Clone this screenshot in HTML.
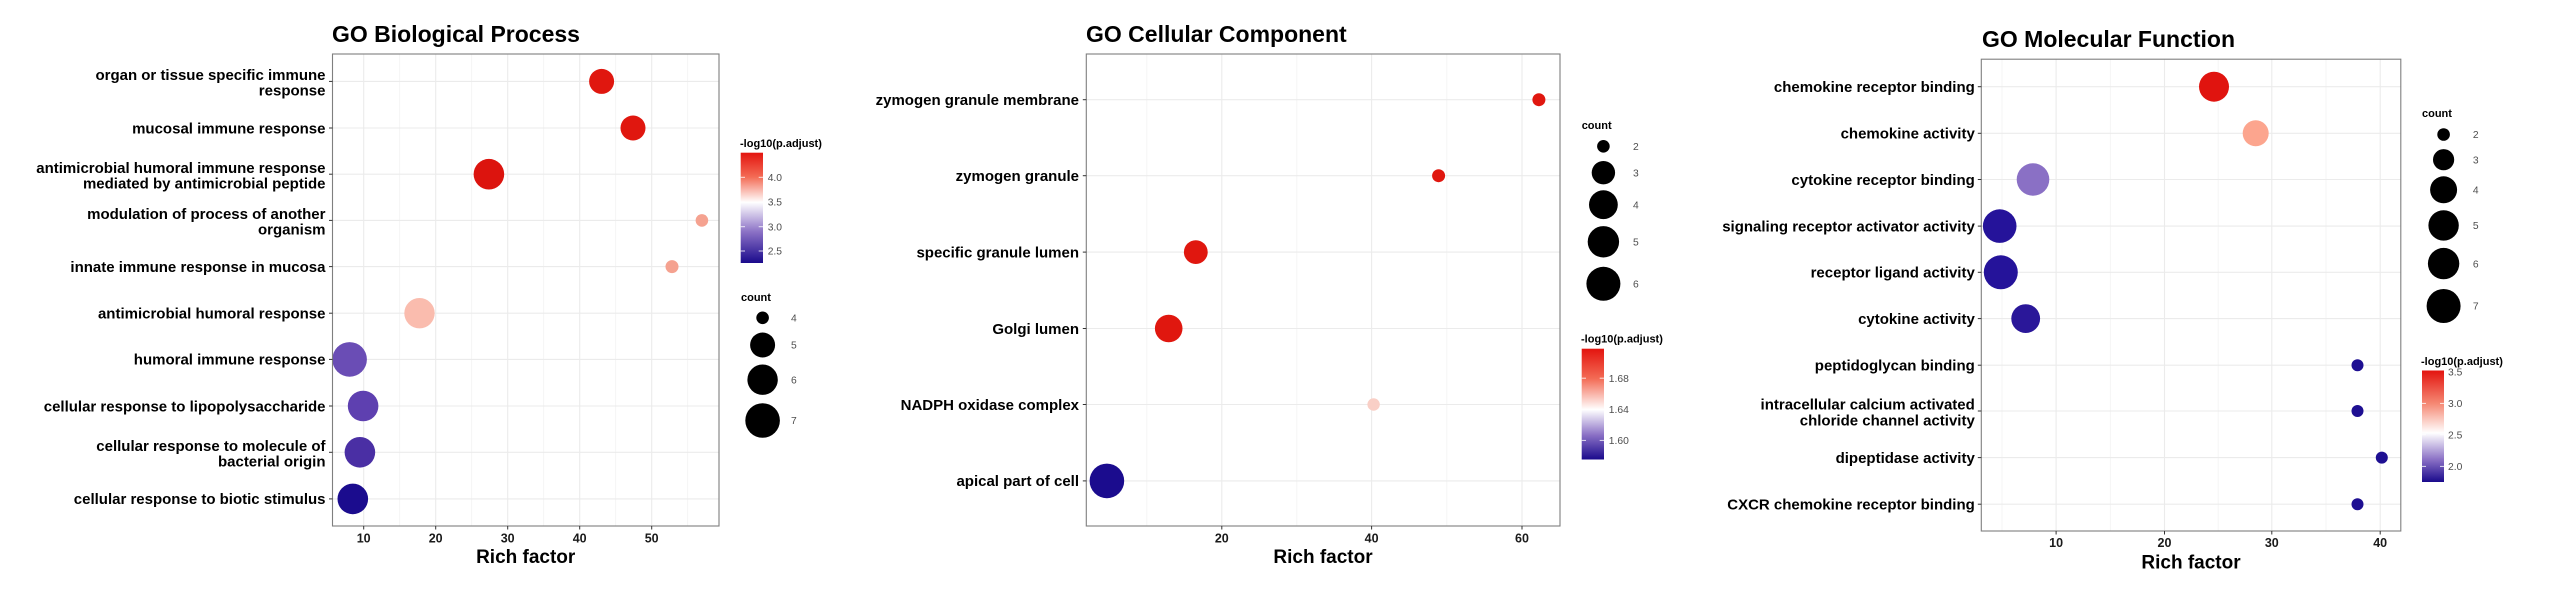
<!DOCTYPE html>
<html><head><meta charset="utf-8"><style>
html,body{margin:0;padding:0;background:#fff;}
svg{display:block;}
text{font-family:"Liberation Sans",Arial,sans-serif;}
.t{font-size:23px;font-weight:bold;fill:#000;}
.yl{font-size:15px;font-weight:bold;fill:#000;text-anchor:end;}
.xl{font-size:12.5px;font-weight:bold;fill:#1a1a1a;text-anchor:middle;}
.ax{font-size:19px;font-weight:bold;fill:#000;text-anchor:middle;}
.lt{font-size:11px;font-weight:bold;fill:#000;}
.ll{font-size:10.3px;fill:#4d4d4d;}
.g{stroke:#ebebeb;stroke-width:1.1;}
.gm{stroke:#f2f2f2;stroke-width:0.8;}
.b{fill:none;stroke:#7f7f7f;stroke-width:1.1;}
.tk{stroke:#333;stroke-width:1;}
</style></head><body>
<svg width="2560" height="599" viewBox="0 0 2560 599" xmlns="http://www.w3.org/2000/svg">
<defs>
<linearGradient id="g1" x1="0" y1="0" x2="0" y2="1">
<stop offset="0" stop-color="#E3140F"/><stop offset="0.22" stop-color="#F36B55"/><stop offset="0.45" stop-color="#ffffff"/><stop offset="0.72" stop-color="#8A70C5"/><stop offset="1" stop-color="#1A0A8C"/></linearGradient>
<linearGradient id="g2" x1="0" y1="0" x2="0" y2="1">
<stop offset="0" stop-color="#E3140F"/><stop offset="0.27" stop-color="#F36B55"/><stop offset="0.55" stop-color="#ffffff"/><stop offset="0.78" stop-color="#8A70C5"/><stop offset="1" stop-color="#1A0A8C"/></linearGradient>
<linearGradient id="g3" x1="0" y1="0" x2="0" y2="1">
<stop offset="0" stop-color="#E3140F"/><stop offset="0.3" stop-color="#F58A75"/><stop offset="0.56" stop-color="#ffffff"/><stop offset="0.8" stop-color="#8A70C5"/><stop offset="1" stop-color="#1A0A8C"/></linearGradient>
</defs>

<!-- PANEL 1 -->
<text class="t" x="332" y="42">GO Biological Process</text>
<g>
<line class="gm" x1="399.7" y1="54" x2="399.7" y2="526"/><line class="gm" x1="471.7" y1="54" x2="471.7" y2="526"/><line class="gm" x1="543.7" y1="54" x2="543.7" y2="526"/><line class="gm" x1="615.7" y1="54" x2="615.7" y2="526"/><line class="gm" x1="687.7" y1="54" x2="687.7" y2="526"/>
<line class="g" x1="363.7" y1="54" x2="363.7" y2="526"/><line class="g" x1="435.7" y1="54" x2="435.7" y2="526"/><line class="g" x1="507.7" y1="54" x2="507.7" y2="526"/><line class="g" x1="579.7" y1="54" x2="579.7" y2="526"/><line class="g" x1="651.7" y1="54" x2="651.7" y2="526"/>
<line class="g" x1="332.5" y1="81.4" x2="719" y2="81.4"/><line class="g" x1="332.5" y1="128" x2="719" y2="128"/><line class="g" x1="332.5" y1="174.2" x2="719" y2="174.2"/><line class="g" x1="332.5" y1="220.4" x2="719" y2="220.4"/><line class="g" x1="332.5" y1="266.6" x2="719" y2="266.6"/><line class="g" x1="332.5" y1="313.2" x2="719" y2="313.2"/><line class="g" x1="332.5" y1="359.4" x2="719" y2="359.4"/><line class="g" x1="332.5" y1="406" x2="719" y2="406"/><line class="g" x1="332.5" y1="452.3" x2="719" y2="452.3"/><line class="g" x1="332.5" y1="498.9" x2="719" y2="498.9"/>
<circle cx="601.6" cy="81.4" r="12.5" fill="#E0170F"/>
<circle cx="633" cy="128" r="12.5" fill="#E0170F"/>
<circle cx="488.9" cy="174.2" r="15.3" fill="#DC140E"/>
<circle cx="701.9" cy="220.4" r="6.3" fill="#F5A290"/>
<circle cx="672" cy="266.6" r="6.5" fill="#F5A290"/>
<circle cx="419.5" cy="313.2" r="15.2" fill="#FABCAE"/>
<circle cx="349.6" cy="359.4" r="17.3" fill="#6A4DB5"/>
<circle cx="363.1" cy="406" r="15.3" fill="#5E40B0"/>
<circle cx="359.9" cy="452.3" r="15.3" fill="#4A2FA4"/>
<circle cx="352.8" cy="498.9" r="15.3" fill="#1B0C8E"/>
<rect class="b" x="332.5" y="54" width="386.5" height="472"/>
<g class="tk"><line x1="329" y1="81.4" x2="332.5" y2="81.4"/><line x1="329" y1="128" x2="332.5" y2="128"/><line x1="329" y1="174.2" x2="332.5" y2="174.2"/><line x1="329" y1="220.4" x2="332.5" y2="220.4"/><line x1="329" y1="266.6" x2="332.5" y2="266.6"/><line x1="329" y1="313.2" x2="332.5" y2="313.2"/><line x1="329" y1="359.4" x2="332.5" y2="359.4"/><line x1="329" y1="406" x2="332.5" y2="406"/><line x1="329" y1="452.3" x2="332.5" y2="452.3"/><line x1="329" y1="498.9" x2="332.5" y2="498.9"/>
<line x1="363.7" y1="526" x2="363.7" y2="529.5"/><line x1="435.7" y1="526" x2="435.7" y2="529.5"/><line x1="507.7" y1="526" x2="507.7" y2="529.5"/><line x1="579.7" y1="526" x2="579.7" y2="529.5"/><line x1="651.7" y1="526" x2="651.7" y2="529.5"/></g>
<text class="yl" x="325.5" y="80">organ or tissue specific immune</text><text class="yl" x="325.5" y="95.7">response</text>
<text class="yl" x="325.5" y="133.3">mucosal immune response</text>
<text class="yl" x="325.5" y="172.8">antimicrobial humoral immune response</text><text class="yl" x="325.5" y="188.5">mediated by antimicrobial peptide</text>
<text class="yl" x="325.5" y="219">modulation of process of another</text><text class="yl" x="325.5" y="234.7">organism</text>
<text class="yl" x="325.5" y="271.9">innate immune response in mucosa</text>
<text class="yl" x="325.5" y="318.5">antimicrobial humoral response</text>
<text class="yl" x="325.5" y="364.7">humoral immune response</text>
<text class="yl" x="325.5" y="411.3">cellular response to lipopolysaccharide</text>
<text class="yl" x="325.5" y="450.9">cellular response to molecule of</text><text class="yl" x="325.5" y="466.6">bacterial origin</text>
<text class="yl" x="325.5" y="504.2">cellular response to biotic stimulus</text>
<text class="xl" x="363.7" y="542.5">10</text><text class="xl" x="435.7" y="542.5">20</text><text class="xl" x="507.7" y="542.5">30</text><text class="xl" x="579.7" y="542.5">40</text><text class="xl" x="651.7" y="542.5">50</text>
<text class="ax" x="525.7" y="563">Rich factor</text>
<text class="lt" x="740" y="147">-log10(p.adjust)</text>
<rect x="740.7" y="152.7" width="22.3" height="110.3" fill="url(#g1)"/>
<g stroke="#fff" stroke-width="1" opacity="0.8"><line x1="740.7" y1="177.3" x2="745" y2="177.3"/><line x1="758.7" y1="177.3" x2="763" y2="177.3"/><line x1="740.7" y1="202" x2="745" y2="202"/><line x1="758.7" y1="202" x2="763" y2="202"/><line x1="740.7" y1="226.7" x2="745" y2="226.7"/><line x1="758.7" y1="226.7" x2="763" y2="226.7"/><line x1="740.7" y1="251" x2="745" y2="251"/><line x1="758.7" y1="251" x2="763" y2="251"/></g>
<text class="ll" x="767.7" y="181">4.0</text><text class="ll" x="767.7" y="205.7">3.5</text><text class="ll" x="767.7" y="230.4">3.0</text><text class="ll" x="767.7" y="254.7">2.5</text>
<text class="lt" x="741" y="301">count</text>
<circle cx="762.6" cy="317.8" r="6.3"/><circle cx="762.6" cy="345" r="12.5"/><circle cx="762.6" cy="379.7" r="15.2"/><circle cx="762.6" cy="420.5" r="17.3"/>
<text class="ll" x="791" y="321.5">4</text><text class="ll" x="791" y="348.7">5</text><text class="ll" x="791" y="383.4">6</text><text class="ll" x="791" y="424.2">7</text>
</g>

<!-- PANEL 2 -->
<text class="t" x="1086" y="42">GO Cellular Component</text>
<g>
<line class="gm" x1="1146.8" y1="54" x2="1146.8" y2="526"/><line class="gm" x1="1296.8" y1="54" x2="1296.8" y2="526"/><line class="gm" x1="1446.8" y1="54" x2="1446.8" y2="526"/>
<line class="g" x1="1221.8" y1="54" x2="1221.8" y2="526"/><line class="g" x1="1371.6" y1="54" x2="1371.6" y2="526"/><line class="g" x1="1522" y1="54" x2="1522" y2="526"/>
<line class="g" x1="1086.3" y1="99.7" x2="1560" y2="99.7"/><line class="g" x1="1086.3" y1="175.7" x2="1560" y2="175.7"/><line class="g" x1="1086.3" y1="252.1" x2="1560" y2="252.1"/><line class="g" x1="1086.3" y1="328.5" x2="1560" y2="328.5"/><line class="g" x1="1086.3" y1="404.5" x2="1560" y2="404.5"/><line class="g" x1="1086.3" y1="480.9" x2="1560" y2="480.9"/>
<circle cx="1538.9" cy="99.7" r="6.5" fill="#E0170F"/>
<circle cx="1438.6" cy="175.7" r="6.5" fill="#E0170F"/>
<circle cx="1195.8" cy="252.1" r="11.9" fill="#E0170F"/>
<circle cx="1168.7" cy="328.5" r="13.8" fill="#E0170F"/>
<circle cx="1373.6" cy="404.5" r="6.2" fill="#F9CFC6"/>
<circle cx="1106.9" cy="480.9" r="17.3" fill="#1B0C8E"/>
<rect class="b" x="1086.3" y="54" width="473.7" height="472"/>
<g class="tk"><line x1="1082.8" y1="99.7" x2="1086.3" y2="99.7"/><line x1="1082.8" y1="175.7" x2="1086.3" y2="175.7"/><line x1="1082.8" y1="252.1" x2="1086.3" y2="252.1"/><line x1="1082.8" y1="328.5" x2="1086.3" y2="328.5"/><line x1="1082.8" y1="404.5" x2="1086.3" y2="404.5"/><line x1="1082.8" y1="480.9" x2="1086.3" y2="480.9"/>
<line x1="1221.8" y1="526" x2="1221.8" y2="529.5"/><line x1="1371.6" y1="526" x2="1371.6" y2="529.5"/><line x1="1522" y1="526" x2="1522" y2="529.5"/></g>
<text class="yl" x="1079" y="105">zymogen granule membrane</text>
<text class="yl" x="1079" y="181">zymogen granule</text>
<text class="yl" x="1079" y="257.4">specific granule lumen</text>
<text class="yl" x="1079" y="333.8">Golgi lumen</text>
<text class="yl" x="1079" y="409.8">NADPH oxidase complex</text>
<text class="yl" x="1079" y="486.2">apical part of cell</text>
<text class="xl" x="1221.8" y="542.5">20</text><text class="xl" x="1371.6" y="542.5">40</text><text class="xl" x="1522" y="542.5">60</text>
<text class="ax" x="1323" y="563">Rich factor</text>
<text class="lt" x="1581.7" y="129">count</text>
<circle cx="1603.4" cy="146.3" r="6.3"/><circle cx="1603.4" cy="172.7" r="11.7"/><circle cx="1603.4" cy="204.7" r="14.4"/><circle cx="1603.4" cy="241.8" r="15.7"/><circle cx="1603.4" cy="283.8" r="17"/>
<text class="ll" x="1633" y="150">2</text><text class="ll" x="1633" y="176.4">3</text><text class="ll" x="1633" y="208.4">4</text><text class="ll" x="1633" y="245.5">5</text><text class="ll" x="1633" y="287.5">6</text>
<text class="lt" x="1581" y="342.5">-log10(p.adjust)</text>
<rect x="1581.7" y="348.7" width="22.3" height="110.8" fill="url(#g2)"/>
<g stroke="#fff" stroke-width="1" opacity="0.8"><line x1="1581.7" y1="378.2" x2="1586" y2="378.2"/><line x1="1599.7" y1="378.2" x2="1604" y2="378.2"/><line x1="1581.7" y1="409.5" x2="1586" y2="409.5"/><line x1="1599.7" y1="409.5" x2="1604" y2="409.5"/><line x1="1581.7" y1="440.4" x2="1586" y2="440.4"/><line x1="1599.7" y1="440.4" x2="1604" y2="440.4"/></g>
<text class="ll" x="1608.8" y="381.9">1.68</text><text class="ll" x="1608.8" y="413.2">1.64</text><text class="ll" x="1608.8" y="444.1">1.60</text>
</g>

<!-- PANEL 3 -->
<text class="t" x="1982" y="47">GO Molecular Function</text>
<g>
<line class="gm" x1="2002" y1="59.2" x2="2002" y2="531"/><line class="gm" x1="2110.3" y1="59.2" x2="2110.3" y2="531"/><line class="gm" x1="2218.2" y1="59.2" x2="2218.2" y2="531"/><line class="gm" x1="2326" y1="59.2" x2="2326" y2="531"/>
<line class="g" x1="2056.1" y1="59.2" x2="2056.1" y2="531"/><line class="g" x1="2164.5" y1="59.2" x2="2164.5" y2="531"/><line class="g" x1="2271.8" y1="59.2" x2="2271.8" y2="531"/><line class="g" x1="2380.2" y1="59.2" x2="2380.2" y2="531"/>
<line class="g" x1="1981.3" y1="86.7" x2="2400.8" y2="86.7"/><line class="g" x1="1981.3" y1="133.3" x2="2400.8" y2="133.3"/><line class="g" x1="1981.3" y1="179.5" x2="2400.8" y2="179.5"/><line class="g" x1="1981.3" y1="226.1" x2="2400.8" y2="226.1"/><line class="g" x1="1981.3" y1="272.3" x2="2400.8" y2="272.3"/><line class="g" x1="1981.3" y1="318.6" x2="2400.8" y2="318.6"/><line class="g" x1="1981.3" y1="365.2" x2="2400.8" y2="365.2"/><line class="g" x1="1981.3" y1="411" x2="2400.8" y2="411"/><line class="g" x1="1981.3" y1="457.6" x2="2400.8" y2="457.6"/><line class="g" x1="1981.3" y1="504.2" x2="2400.8" y2="504.2"/>
<circle cx="2214" cy="86.7" r="15" fill="#E0140F"/>
<circle cx="2255.7" cy="133.3" r="13" fill="#FCA58E"/>
<circle cx="2033" cy="179.5" r="16.3" fill="#8A70C5"/>
<circle cx="1999.7" cy="226.1" r="16.8" fill="#25139A"/>
<circle cx="2000.8" cy="272.3" r="17" fill="#25139A"/>
<circle cx="2025.7" cy="318.6" r="14.4" fill="#2A1799"/>
<circle cx="2357.5" cy="365.2" r="6" fill="#1E0F92"/>
<circle cx="2357.5" cy="411" r="6" fill="#1E0F92"/>
<circle cx="2381.8" cy="457.6" r="6" fill="#1E0F92"/>
<circle cx="2357.5" cy="504.2" r="6" fill="#1E0F92"/>
<rect class="b" x="1981.3" y="59.2" width="419.5" height="471.8"/>
<g class="tk"><line x1="1977.8" y1="86.7" x2="1981.3" y2="86.7"/><line x1="1977.8" y1="133.3" x2="1981.3" y2="133.3"/><line x1="1977.8" y1="179.5" x2="1981.3" y2="179.5"/><line x1="1977.8" y1="226.1" x2="1981.3" y2="226.1"/><line x1="1977.8" y1="272.3" x2="1981.3" y2="272.3"/><line x1="1977.8" y1="318.6" x2="1981.3" y2="318.6"/><line x1="1977.8" y1="365.2" x2="1981.3" y2="365.2"/><line x1="1977.8" y1="411" x2="1981.3" y2="411"/><line x1="1977.8" y1="457.6" x2="1981.3" y2="457.6"/><line x1="1977.8" y1="504.2" x2="1981.3" y2="504.2"/>
<line x1="2056.1" y1="531" x2="2056.1" y2="534.5"/><line x1="2164.5" y1="531" x2="2164.5" y2="534.5"/><line x1="2271.8" y1="531" x2="2271.8" y2="534.5"/><line x1="2380.2" y1="531" x2="2380.2" y2="534.5"/></g>
<text class="yl" x="1974.8" y="92">chemokine receptor binding</text>
<text class="yl" x="1974.8" y="138.6">chemokine activity</text>
<text class="yl" x="1974.8" y="184.8">cytokine receptor binding</text>
<text class="yl" x="1974.8" y="231.4">signaling receptor activator activity</text>
<text class="yl" x="1974.8" y="277.6">receptor ligand activity</text>
<text class="yl" x="1974.8" y="323.9">cytokine activity</text>
<text class="yl" x="1974.8" y="370.5">peptidoglycan binding</text>
<text class="yl" x="1974.8" y="409.6">intracellular calcium activated</text><text class="yl" x="1974.8" y="425.3">chloride channel activity</text>
<text class="yl" x="1974.8" y="462.9">dipeptidase activity</text>
<text class="yl" x="1974.8" y="509.5">CXCR chemokine receptor binding</text>
<text class="xl" x="2056.1" y="547">10</text><text class="xl" x="2164.5" y="547">20</text><text class="xl" x="2271.8" y="547">30</text><text class="xl" x="2380.2" y="547">40</text>
<text class="ax" x="2191" y="568.5">Rich factor</text>
<text class="lt" x="2422" y="117">count</text>
<circle cx="2443.6" cy="134.5" r="6.3"/><circle cx="2443.6" cy="159.7" r="10.6"/><circle cx="2443.6" cy="189.8" r="13.5"/><circle cx="2443.6" cy="225.4" r="15.2"/><circle cx="2443.6" cy="263.6" r="15.7"/><circle cx="2443.6" cy="306" r="17"/>
<text class="ll" x="2472.9" y="138.2">2</text><text class="ll" x="2472.9" y="163.4">3</text><text class="ll" x="2472.9" y="193.5">4</text><text class="ll" x="2472.9" y="229.1">5</text><text class="ll" x="2472.9" y="267.3">6</text><text class="ll" x="2472.9" y="309.7">7</text>
<text class="lt" x="2421" y="365">-log10(p.adjust)</text>
<rect x="2422" y="370.5" width="22" height="111.5" fill="url(#g3)"/>
<g stroke="#fff" stroke-width="1" opacity="0.8"><line x1="2422" y1="403.4" x2="2426" y2="403.4"/><line x1="2440" y1="403.4" x2="2444" y2="403.4"/><line x1="2422" y1="434.7" x2="2426" y2="434.7"/><line x1="2440" y1="434.7" x2="2444" y2="434.7"/><line x1="2422" y1="466.4" x2="2426" y2="466.4"/><line x1="2440" y1="466.4" x2="2444" y2="466.4"/></g>
<text class="ll" x="2448" y="375.7">3.5</text><text class="ll" x="2448" y="407.1">3.0</text><text class="ll" x="2448" y="438.4">2.5</text><text class="ll" x="2448" y="470.1">2.0</text>
</g>
</svg>
</body></html>
